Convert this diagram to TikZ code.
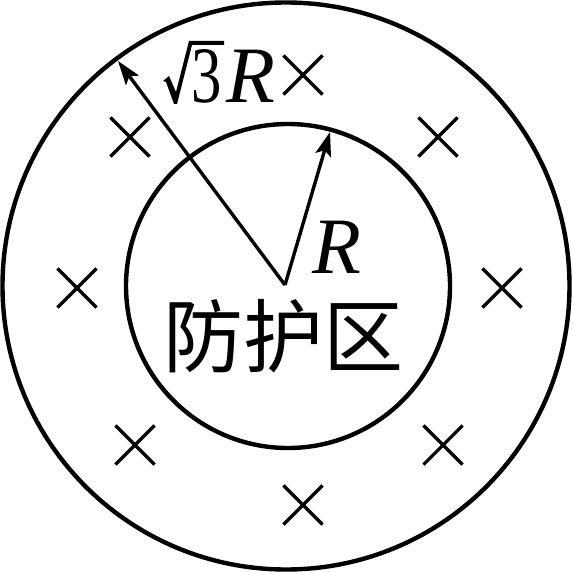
\documentclass[tikz,border=0pt]{standalone}
\usepackage{fontspec}
\setmainfont{Liberation Serif}
\newfontfamily\cjk{Noto Sans CJK SC}
\usetikzlibrary{arrows.meta,shapes.misc}
\tikzset{
  ring/.style={line width=4.4pt},
  radius arrow/.style={line width=3.4pt,-{Stealth[length=24pt,width=16pt,inset=5pt]}},
  fieldx/.style={cross out,draw,minimum size=36pt,inner sep=0pt,line width=3.2pt},
  lbl/.style={inner sep=0pt,font=\fontsize{80}{80}\selectfont}
}
\begin{document}
\begin{tikzpicture}[x=1pt,y=-1pt]
\useasboundingbox (0,0) rectangle (572,572);
\coordinate (O) at (286,286);
\coordinate (Oi) at (288,286);
\coordinate (P) at (285,285);
\coordinate (T1) at (118,61);
\coordinate (T2) at (330,132);
\draw[ring] (O) circle[radius=283.5];
\draw[ring] (Oi) circle[radius=162];
\draw[radius arrow] (P) -- (T1);
\draw[radius arrow] (P) -- (T2);
\node[fieldx] (x1) at (303,75) {};
\node[fieldx] (x2) at (130,137) {};
\node[fieldx] (x3) at (438,137) {};
\node[fieldx] (x4) at (77,288) {};
\node[fieldx] (x5) at (502,288) {};
\node[fieldx] (x6) at (135,445) {};
\node[fieldx] (x7) at (443,445) {};
\node[fieldx] (x8) at (303,505) {};
% radical sign of sqrt(3)R
\fill (163,81) -- (169,76) -- (176,92) -- (189,41) -- (224,41) -- (224,45) -- (192,45) -- (177,104) -- (174,104) -- (166,82) -- cycle;
\node[lbl,anchor=base west] (three) at (191,103) {\scalebox{0.76}[1]{3}};
\node[lbl,anchor=base west] (rr) at (226,103) {\textit{R}};
\node[lbl,anchor=base west] (r) at (312,273) {\textit{R}};
\node[lbl,anchor=center] (zone) at (283,336) {\cjk 防护区};
\end{tikzpicture}
\end{document}
